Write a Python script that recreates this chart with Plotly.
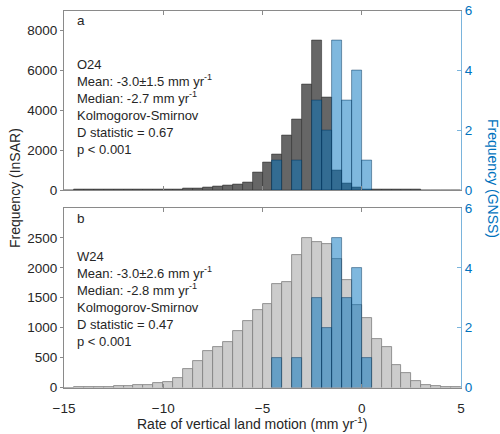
import numpy as np
import plotly.graph_objects as go

# Bin left edges (0.5 mm/yr bins from -15 to 5)
bin_left = [-15 + 0.5 * i for i in range(40)]
bin_width = 0.5
bin_center = [b + bin_width / 2 for b in bin_left]

# Panel a (O24) InSAR counts
insar_o24 = [0, 1, 2, 3, 5, 8, 12, 16, 22, 30, 40, 50, 67, 83, 117, 167,
             217, 300, 390, 870, 1380, 1780, 2730, 3520, 5280, 7480, 4650,
             970, 310, 110, 40, 30, 20, 10, 5, 3, 0, 0, 0, 0]
# Panel b (W24) InSAR counts
insar_w24 = [0, 2, 5, 10, 15, 17, 22, 34, 50, 67, 100, 162, 313, 441, 609,
             676, 757, 938, 1112, 1296, 1402, 1732, 1765, 2207, 2497, 2436,
             2397, 2145, 1793, 1374, 1156, 807, 670, 372, 240, 117, 50, 20,
             10, 3]
# GNSS counts (same in both panels)
gnss = [0] * 21 + [1, 0, 1, 0, 3, 2, 5, 3, 4, 1] + [0] * 9

x_ticks = [-15, -10, -5, 0, 5]
y_ticks_a = [0, 2000, 4000, 6000, 8000]
y_ticks_b = [0, 500, 1000, 1500, 2000, 2500]
y_ticks_gnss = [0, 2, 4, 6]

panel_labels = ["a", "b"]
text_a = ["O24", "Mean: -3.0±1.5 mm yr<sup>-1</sup>", "Median: -2.7 mm yr<sup>-1</sup>",
          "Kolmogorov-Smirnov", "D statistic = 0.67", "p < 0.001"]
text_b = ["W24", "Mean: -3.0±2.6 mm yr<sup>-1</sup>", "Median: -2.8 mm yr<sup>-1</sup>",
          "Kolmogorov-Smirnov", "D statistic = 0.47", "p < 0.001"]

W, H = 500, 434
FONT = "Liberation Sans, Arial, Helvetica, sans-serif"
TXT = "#262626"
AXC = "#8a8a8a"
BLUE_T = "#0072BD"
BLUE_L = "#7ab4dc"


def nz(vals):
    return [v if v else None for v in vals]


fig = go.Figure()
fig.add_trace(go.Bar(x=bin_center, y=insar_o24, width=bin_width, xaxis="x", yaxis="y",
                     marker=dict(color="rgb(102,102,102)", line=dict(color="rgba(40,40,40,0.7)", width=0.8)),
                     showlegend=False))
fig.add_trace(go.Bar(x=bin_center, y=nz(gnss), width=bin_width, xaxis="x", yaxis="y2",
                     marker=dict(color="rgba(0,114,189,0.5)", line=dict(color="rgba(0,50,90,0.6)", width=0.8)),
                     showlegend=False))
fig.add_trace(go.Bar(x=bin_center, y=insar_w24, width=bin_width, xaxis="x2", yaxis="y3",
                     marker=dict(color="rgb(204,204,204)", line=dict(color="rgb(125,125,125)", width=0.8)),
                     showlegend=False))
fig.add_trace(go.Bar(x=bin_center, y=nz(gnss), width=bin_width, xaxis="x2", yaxis="y4",
                     marker=dict(color="rgba(0,114,189,0.5)", line=dict(color="rgba(0,50,90,0.6)", width=0.8)),
                     showlegend=False))

xdom = [64 / W, 461 / W]
dom_a = [1 - 190 / H, 1 - 10.5 / H]
dom_b = [1 - 387.5 / H, 1 - 208 / H]

xcommon = dict(domain=xdom, range=[-15, 5], tickvals=x_ticks, ticks="inside", ticklen=4,
               tickcolor=AXC, showline=True, linecolor=AXC, linewidth=1, mirror="ticks",
               showgrid=False, zeroline=False, automargin=False,
               tickfont=dict(size=13.5, color=TXT, family=FONT))
yleft = dict(ticks="outside", ticklen=3, tickcolor=AXC, showline=True, linecolor=AXC, linewidth=1,
             showgrid=False, zeroline=False, automargin=False,
             tickfont=dict(size=13.5, color=TXT, family=FONT))
yright = dict(side="right", range=[0, 6], tickvals=y_ticks_gnss, ticks="inside", ticklen=4,
              tickcolor=BLUE_L, showline=True, linecolor=BLUE_L, linewidth=1, showgrid=False,
              zeroline=False, automargin=False, tickfont=dict(size=13.5, color=BLUE_T, family=FONT))

annotations = []
for lab, yy in zip(panel_labels, [21, 218]):
    annotations.append(dict(text=lab, x=75 / W, y=1 - yy / H, xref="paper", yref="paper",
                            xanchor="left", yanchor="middle", showarrow=False,
                            font=dict(size=13.5, color=TXT, family=FONT)))
for txts, yc in ((text_a, 107), (text_b, 299)):
    annotations.append(dict(text="<br>".join(txts), x=75 / W, y=1 - yc / H, xref="paper", yref="paper",
                            xanchor="left", yanchor="middle", align="left", showarrow=False,
                            font=dict(size=13, color=TXT, family=FONT)))
annotations.append(dict(text="Frequency (InSAR)", x=15 / W, y=1 - 188 / H, xref="paper", yref="paper",
                        textangle=-90, xanchor="center", yanchor="middle", showarrow=False,
                        font=dict(size=14, color=TXT, family=FONT)))
annotations.append(dict(text="Frequency (GNSS)", x=493 / W, y=1 - 178 / H, xref="paper", yref="paper",
                        textangle=90, xanchor="center", yanchor="middle", showarrow=False,
                        font=dict(size=14, color=BLUE_T, family=FONT)))
annotations.append(dict(text="Rate of vertical land motion (mm yr<sup>-1</sup>)", x=252 / W, y=1 - 423 / H,
                        xref="paper", yref="paper", xanchor="center", yanchor="middle", showarrow=False,
                        font=dict(size=14, color=TXT, family=FONT)))

fig.update_layout(
    width=W, height=H, margin=dict(l=0, r=0, t=0, b=0, autoexpand=False),
    paper_bgcolor="white", plot_bgcolor="white", barmode="overlay", bargap=0,
    font=dict(family=FONT, color=TXT),
    xaxis=dict(xcommon, anchor="y", showticklabels=False),
    xaxis2=dict(xcommon, anchor="y3", matches="x", ticklabelstandoff=8),
    yaxis=dict(yleft, domain=dom_a, anchor="x", range=[0, 9000], tickvals=y_ticks_a),
    yaxis2=dict(yright, overlaying="y", anchor="x"),
    yaxis3=dict(yleft, domain=dom_b, anchor="x2", range=[0, 3000], tickvals=y_ticks_b),
    yaxis4=dict(yright, overlaying="y3", anchor="x2"),
    annotations=annotations,
)

fig.write_html("out.html")
